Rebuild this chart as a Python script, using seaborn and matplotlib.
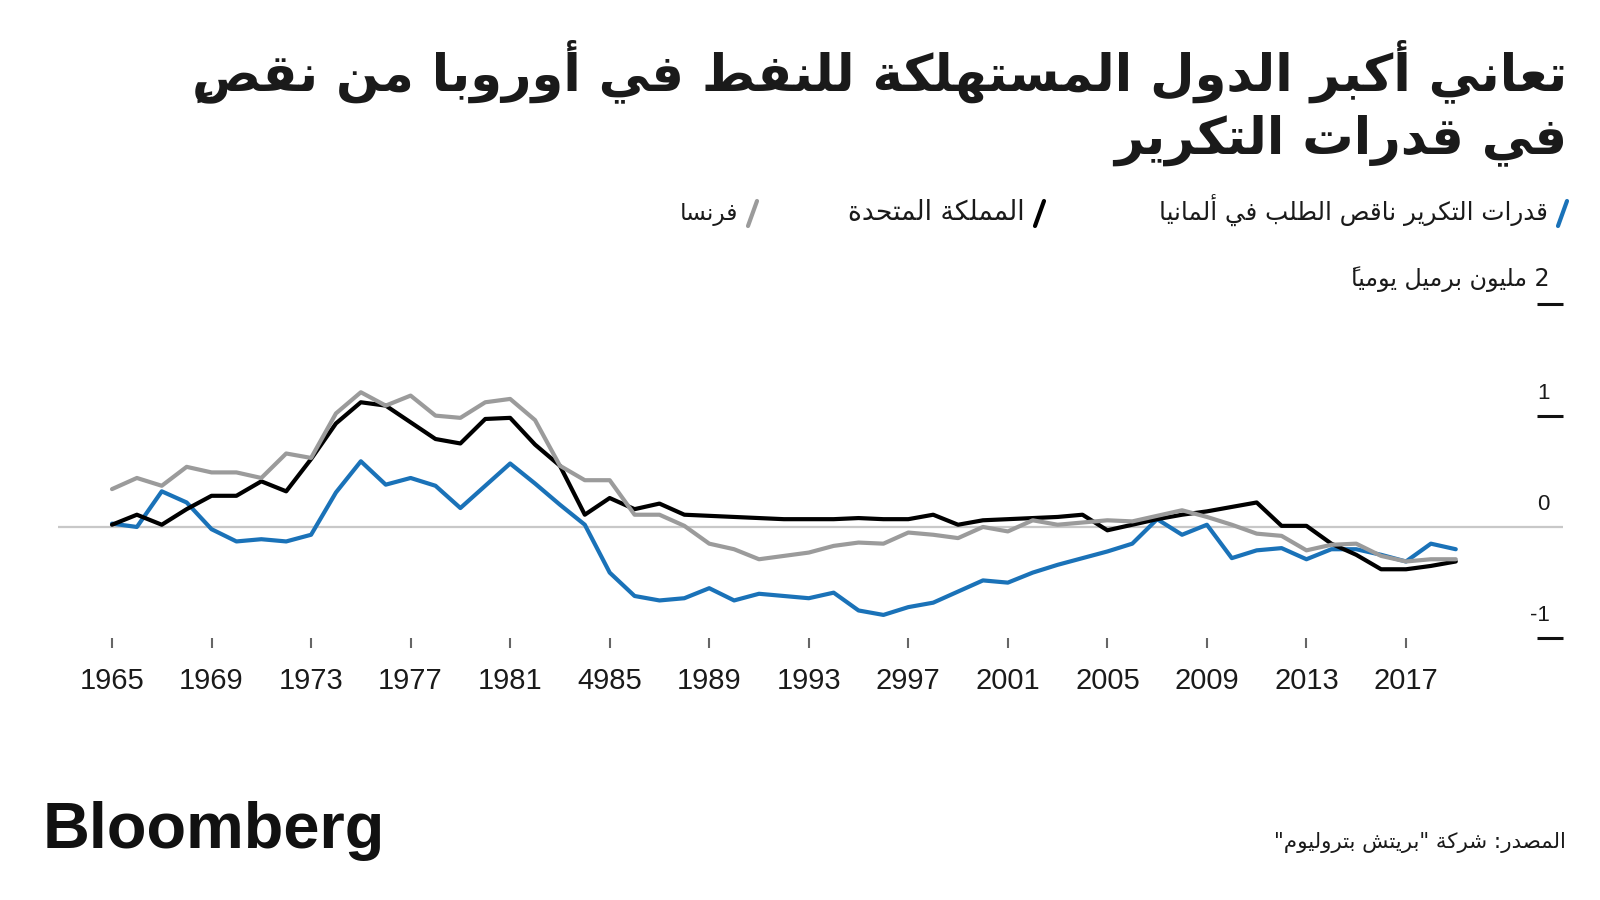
import matplotlib
matplotlib.use("Agg")
import matplotlib.pyplot as plt
import matplotlib.transforms as mtransforms
from matplotlib.lines import Line2D
import numpy as np
import pandas as pd
import seaborn as sns

# ---------------- data ----------------
years = list(range(1965, 2020))
germany = [0.03, 0.00, 0.32, 0.22, -0.02, -0.13, -0.11, -0.13, -0.07, 0.31,
           0.59, 0.38, 0.44, 0.37, 0.17, 0.37, 0.57, 0.39, 0.20, 0.02,
           -0.41, -0.62, -0.66, -0.64, -0.55, -0.66, -0.60, -0.62, -0.64, -0.59,
           -0.75, -0.79, -0.72, -0.68, -0.58, -0.48, -0.50, -0.41, -0.34, -0.28,
           -0.22, -0.15, 0.07, -0.07, 0.02, -0.28, -0.21, -0.19, -0.29, -0.20,
           -0.20, -0.25, -0.31, -0.15, -0.20]
uk = [0.02, 0.11, 0.02, 0.16, 0.28, 0.28, 0.41, 0.32, 0.61, 0.93,
      1.12, 1.09, 0.94, 0.79, 0.75, 0.97, 0.98, 0.74, 0.55, 0.11,
      0.26, 0.16, 0.21, 0.11, 0.10, 0.09, 0.08, 0.07, 0.07, 0.07,
      0.08, 0.07, 0.07, 0.11, 0.02, 0.06, 0.07, 0.08, 0.09, 0.11,
      -0.03, 0.02, 0.07, 0.11, 0.14, 0.18, 0.22, 0.01, 0.01, -0.15,
      -0.25, -0.38, -0.38, -0.35, -0.31]
france = [0.34, 0.44, 0.37, 0.54, 0.49, 0.49, 0.44, 0.66, 0.62, 1.02,
          1.21, 1.09, 1.18, 1.00, 0.98, 1.12, 1.15, 0.96, 0.55, 0.42,
          0.42, 0.11, 0.11, 0.01, -0.15, -0.20, -0.29, -0.26, -0.23, -0.17,
          -0.14, -0.15, -0.05, -0.07, -0.10, 0.00, -0.04, 0.06, 0.02, 0.04,
          0.06, 0.05, 0.10, 0.15, 0.09, 0.02, -0.06, -0.08, -0.21, -0.16,
          -0.15, -0.26, -0.31, -0.29, -0.29]

series_names = ["قدرات التكرير ناقص الطلب في ألمانيا", "المملكة المتحدة", "فرنسا"]
series_colors = ["#1a72b8", "#000000", "#9b9b9b"]

xtick_years = list(range(1965, 2018, 4))
xtick_labels = ["1965", "1969", "1973", "1977", "1981", "4985", "1989",
                "1993", "2997", "2001", "2005", "2009", "2013", "2017"]
ytick_values = [-1, 0, 1, 2]
ytick_labels = ["-1", "0", "1", "2 مليون برميل يومياً"]

title_lines = ["تعاني أكبر الدول المستهلكة للنفط في أوروبا من نقصٍ",
               "في قدرات التكرير"]
source_text = 'المصدر: شركة "بريتش بتروليوم"'
brand_text = "Bloomberg"

# ---------------- minimal Arabic shaping (presentation forms + visual order) ----------------
FORMS = {
    "\u0621": (0xFE80, 1), "\u0622": (0xFE81, 2), "\u0623": (0xFE83, 2),
    "\u0624": (0xFE85, 2), "\u0625": (0xFE87, 2), "\u0626": (0xFE89, 4),
    "\u0627": (0xFE8D, 2), "\u0628": (0xFE8F, 4), "\u0629": (0xFE93, 2),
    "\u062A": (0xFE95, 4), "\u062B": (0xFE99, 4), "\u062C": (0xFE9D, 4),
    "\u062D": (0xFEA1, 4), "\u062E": (0xFEA5, 4), "\u062F": (0xFEA9, 2),
    "\u0630": (0xFEAB, 2), "\u0631": (0xFEAD, 2), "\u0632": (0xFEAF, 2),
    "\u0633": (0xFEB1, 4), "\u0634": (0xFEB5, 4), "\u0635": (0xFEB9, 4),
    "\u0636": (0xFEBD, 4), "\u0637": (0xFEC1, 4), "\u0638": (0xFEC5, 4),
    "\u0639": (0xFEC9, 4), "\u063A": (0xFECD, 4), "\u0641": (0xFED1, 4),
    "\u0642": (0xFED5, 4), "\u0643": (0xFED9, 4), "\u0644": (0xFEDD, 4),
    "\u0645": (0xFEE1, 4), "\u0646": (0xFEE5, 4), "\u0647": (0xFEE9, 4),
    "\u0648": (0xFEED, 2), "\u0649": (0xFEEF, 2), "\u064A": (0xFEF1, 4),
}
LAMALEF = {"\u0622": 0xFEF5, "\u0623": 0xFEF7, "\u0625": 0xFEF9, "\u0627": 0xFEFB}


def is_mark(c):
    o = ord(c)
    return 0x064B <= o <= 0x0652 or o == 0x0670


def shape(text):
    if not any(c in FORMS for c in text):
        return text
    ch = list(text)
    n = len(ch)

    def prev_letter(i):
        j = i - 1
        while j >= 0 and is_mark(ch[j]):
            j -= 1
        return j

    def next_letter(i):
        j = i + 1
        while j < n and is_mark(ch[j]):
            j += 1
        return j

    clusters = []
    i = 0
    while i < n:
        c = ch[i]
        if c in FORMS:
            base, k = FORMS[c]
            p = prev_letter(i)
            pj = k > 1 and p >= 0 and ch[p] in FORMS and FORMS[ch[p]][1] == 4
            j = next_letter(i)
            if c == "\u0644" and j < n and ch[j] in LAMALEF:
                g = chr(LAMALEF[ch[j]] + (1 if pj else 0))
                marks = "".join(ch[i + 1:j])
                m = j + 1
                while m < n and is_mark(ch[m]):
                    marks += ch[m]
                    m += 1
                clusters.append(marks + g)
                i = m
                continue
            nj = k == 4 and j < n and ch[j] in FORMS and FORMS[ch[j]][1] > 1
            if pj and nj:
                g = chr(base + 3)
            elif pj:
                g = chr(base + 1)
            elif nj:
                g = chr(base + 2)
            else:
                g = chr(base)
            m = i + 1
            marks = ""
            while m < n and is_mark(ch[m]):
                marks += ch[m]
                m += 1
            # marks first: in left-to-right drawing they sit over the glyph that follows
            clusters.append(marks + g)
            i = m
        elif c.isascii() and (c.isalnum() or c == "."):
            m = i
            while m < n and ch[m].isascii() and (ch[m].isalnum() or ch[m] == "."):
                m += 1
            clusters.append("".join(ch[i:m]))
            i = m
        else:
            clusters.append(c)
            i += 1
    return "".join(reversed(clusters))


# ---------------- figure ----------------
sns.set_theme(style="white")
plt.rcParams["font.family"] = ["DejaVu Sans"]
W, H = 1600, 900
fig = plt.figure(figsize=(16, 9), dpi=100)
fig.patch.set_facecolor("white")


def fx(px):
    return px / W


def fy(py):
    return 1 - py / H


ax_left, ax_right, ax_top, ax_bot = 58, 1563, 304.3, 638.3
ax = fig.add_axes([fx(ax_left), fy(ax_bot), (ax_right - ax_left) / W, (ax_bot - ax_top) / H])
ax.set_facecolor("white")

px_per_year = (1406 - 112) / (2017 - 1965)
ax.set_xlim(1965 - (112 - ax_left) / px_per_year, 1965 + (ax_right - 112) / px_per_year)
ax.set_ylim(-1, 2)

df = pd.DataFrame({
    "year": years * 3,
    "value": germany + uk + france,
    "series": [series_names[0]] * len(years) + [series_names[1]] * len(years) + [series_names[2]] * len(years),
})

ax.axhline(0, color="#c8c8c8", lw=1.6, zorder=1)
sns.lineplot(data=df, x="year", y="value", hue="series", hue_order=series_names,
             palette=series_colors, linewidth=3.0, legend=False, ax=ax, zorder=3)

for s in ax.spines.values():
    s.set_visible(False)
ax.set_xlabel("")
ax.set_ylabel("")

ax.set_xticks(xtick_years)
ax.set_xticklabels(xtick_labels, fontfamily="Liberation Sans", fontsize=21, color="#1a1a1a")
ax.tick_params(axis="x", direction="out", length=7.5, width=1.5, color="#666666", pad=13,
               bottom=True)

ax.yaxis.tick_right()
ax.set_yticks([v for v in ytick_values if v != 0])
ax.tick_params(axis="y", direction="in", length=19, width=2.2, color="#111111",
               labelright=False, labelleft=False, right=True, left=False)

blend = mtransforms.blended_transform_factory(ax.transAxes, ax.transData)
lab_x = (1550 - ax_left) / (ax_right - ax_left)
fig.canvas.draw()
renderer = fig.canvas.get_renderer()

for v, lab in zip(ytick_values, ytick_labels):
    t = ax.annotate(shape(lab), xy=(lab_x, v), xycoords=blend, xytext=(0, 8.5),
                    textcoords="offset points", ha="right", va="bottom",
                    fontsize=16, color="#1a1a1a",
                    fontfamily=["Liberation Sans", "DejaVu Sans"] if v != 2 else ["DejaVu Sans"])
    if v == 2:
        bb = t.get_window_extent(renderer)
        t.set_fontsize(16 * 199 / bb.width)


def fit(t, target):
    bb = t.get_window_extent(renderer)
    t.set_fontsize(t.get_fontsize() * target / bb.width)


# title
t1 = fig.text(fx(1567), fy(90), shape(title_lines[0]), ha="right", va="baseline",
              fontsize=40, fontweight="bold", color="#1a1a1a")
fit(t1, 1374)
t2 = fig.text(fx(1567), fy(153), shape(title_lines[1]), ha="right", va="baseline",
              fontsize=t1.get_fontsize(), fontweight="bold", color="#1a1a1a")

# legend
legend_right = [1568, 1045, 758]
legend_widths = [390, 177, 59]
for name, col, xr, w in zip(series_names, series_colors, legend_right, legend_widths):
    fig.add_artist(Line2D([fx(xr - 10), fx(xr - 1)], [fy(226), fy(201)], color=col,
                          lw=3.0, solid_capstyle="round", transform=fig.transFigure))
    lt = fig.text(fx(xr - 20), fy(220), shape(name), ha="right", va="baseline",
                  fontsize=15, color="#1a1a1a")
    fit(lt, w)

# source
st = fig.text(fx(1566), fy(848), shape(source_text), ha="right", va="baseline",
              fontsize=15, color="#1a1a1a")
fit(st, 294)

# brand
bt = fig.text(fx(43), fy(848), brand_text, ha="left", va="baseline",
              fontsize=48, fontweight="bold", fontfamily="Liberation Sans", color="#111111")
fit(bt, 342)

fig.savefig("out.png", dpi=100, facecolor="white")
